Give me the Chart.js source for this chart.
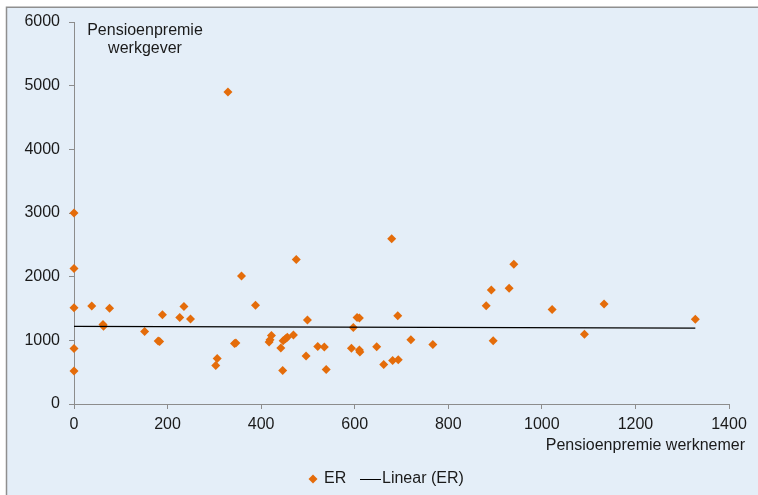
<!DOCTYPE html>
<html>
<head>
<meta charset="utf-8">
<script src="https://cdn.jsdelivr.net/npm/chart.js@4/dist/chart.umd.min.js"></script>
<style>
  html, body { margin: 0; padding: 0; background: #fff; }
  #wrap { position: relative; width: 758px; height: 495px; }
</style>
</head>
<body>
<div id="wrap"><canvas id="myChart" width="758" height="495"></canvas></div>
<script>
// werknemer premie (x) vs werkgever premie (y)
const erX = [0, 0, 0, 0, 0, 38, 76, 62, 63, 151, 180, 183, 189, 226, 235, 249,
  303, 306, 343, 346, 358, 388, 329, 475, 679, 499, 605, 610, 597, 692,
  417, 419, 422, 442, 446, 447, 452, 456, 469, 496, 521, 535, 539, 593,
  610, 611, 647, 662, 681, 693, 720, 767, 881, 892, 896, 930, 940, 1022,
  1091, 1133, 1328];
const erY = [3000, 2130, 1510, 870, 520, 1540, 1505, 1250, 1220, 1140, 990, 980, 1400, 1360, 1530, 1335,
  605, 715, 950, 960, 2010, 1550, 4900, 2270, 2595, 1320, 1360, 1350, 1200, 1385,
  975, 1010, 1075, 880, 525, 995, 1025, 1050, 1085, 755, 905, 895, 540, 875,
  850, 815, 900, 620, 685, 695, 1010, 935, 1545, 1790, 995, 1820, 2195, 1485,
  1095, 1570, 1330];

// trendline end points (Linear (ER))
const trendX = [0, 1328];
const trendY = [1218, 1193];

const xTicks = [0, 200, 400, 600, 800, 1000, 1200, 1400];
const yTicks = [0, 1000, 2000, 3000, 4000, 5000, 6000];

const seriesNames = ['ER', 'Linear (ER)'];
const yTitle = ['Pensioenpremie', 'werkgever'];
const xTitle = 'Pensioenpremie werknemer';

const orange = '#E46C0A';
const fontFam = '"Liberation Sans", Arial, sans-serif';
const fontSize = 16;
const txtColor = '#1a1a1a';

function toPoints(xs, ys) {
  return xs.map((x, i) => ({ x: x, y: ys[i] }));
}

// background, borders, titles and legend
const decor = {
  id: 'decor',
  beforeDraw(chart) {
    const ctx = chart.ctx;
    ctx.save();
    ctx.fillStyle = '#fff';
    ctx.fillRect(0, 0, chart.width, chart.height);
    ctx.fillStyle = '#E4EEF8';
    ctx.fillRect(7, 8, chart.width - 7, chart.height - 8);
    ctx.strokeStyle = '#8f8f8f';
    ctx.lineWidth = 1.5;
    ctx.beginPath();
    ctx.moveTo(6.5, chart.height);
    ctx.lineTo(6.5, 7.2);
    ctx.lineTo(chart.width, 7.2);
    ctx.stroke();
    ctx.restore();
  },
  afterDraw(chart) {
    const ctx = chart.ctx;
    ctx.save();
    ctx.fillStyle = txtColor;
    ctx.font = fontSize + 'px ' + fontFam;
    ctx.textBaseline = 'middle';
    ctx.textAlign = 'center';
    ctx.fillText(yTitle[0], 145, 31);
    ctx.fillText(yTitle[1], 145, 49);
    ctx.textAlign = 'right';
    ctx.fillText(xTitle, 745, 446);

    // legend
    const ly = 479;
    ctx.fillStyle = orange;
    ctx.beginPath();
    ctx.moveTo(313, ly - 4.5);
    ctx.lineTo(317.5, ly);
    ctx.lineTo(313, ly + 4.5);
    ctx.lineTo(308.5, ly);
    ctx.closePath();
    ctx.fill();
    ctx.fillStyle = txtColor;
    ctx.textAlign = 'left';
    ctx.fillText(seriesNames[0], 324, ly);
    ctx.strokeStyle = '#000';
    ctx.lineWidth = 1;
    ctx.beginPath();
    ctx.moveTo(360, ly + 0.5);
    ctx.lineTo(381, ly + 0.5);
    ctx.stroke();
    ctx.fillText(seriesNames[1], 382, ly);
    ctx.restore();
  }
};

const ctx = document.getElementById('myChart');
const myChart = new Chart(ctx, {
  type: 'scatter',
  data: {
    datasets: [
      {
        label: seriesNames[0],
        data: toPoints(erX, erY),
        pointStyle: 'rectRot',
        pointRadius: 4.5,
        pointBorderWidth: 0,
        backgroundColor: orange,
        borderColor: orange,
        clip: false,
        order: 2
      },
      {
        label: seriesNames[1],
        type: 'line',
        data: toPoints(trendX, trendY),
        borderColor: '#000',
        borderWidth: 1.2,
        pointRadius: 0,
        fill: false,
        order: 1
      }
    ]
  },
  plugins: [decor],
  options: {
    responsive: false,
    animation: false,
    layout: { padding: { left: 0, right: 29, top: 22, bottom: 61 } },
    plugins: {
      legend: { display: false },
      tooltip: { enabled: false }
    },
    scales: {
      x: {
        type: 'linear',
        min: 0,
        max: 1400,
        afterFit: (s) => { s.height = 30; },
        afterBuildTicks: (s) => { s.ticks = xTicks.map(v => ({ value: v })); },
        grid: { drawOnChartArea: false, drawTicks: true, tickLength: 5, color: '#8c8c8c' },
        border: { color: '#8c8c8c', width: 1 },
        ticks: { color: txtColor, font: { family: fontFam, size: fontSize }, padding: 6, maxRotation: 0,
                 callback: (v) => String(v) }
      },
      y: {
        min: 0,
        max: 6000,
        afterFit: (s) => { s.width = 74; },
        afterBuildTicks: (s) => { s.ticks = yTicks.map(v => ({ value: v })); },
        grid: { drawOnChartArea: false, drawTicks: true, tickLength: 5, color: '#8c8c8c' },
        border: { color: '#8c8c8c', width: 1 },
        ticks: { color: txtColor, font: { family: fontFam, size: fontSize }, padding: 9,
                 callback: (v) => String(v) }
      }
    }
  }
});
</script>
</body>
</html>
